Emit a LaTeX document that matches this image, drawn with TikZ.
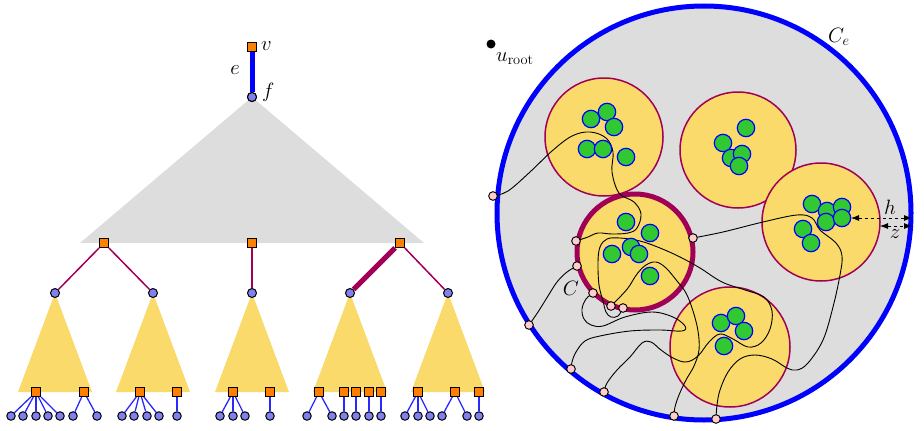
\documentclass[tikz,border=0pt]{standalone}
\usetikzlibrary{arrows.meta}
\definecolor{grayf}{RGB}{221,221,221}
\definecolor{yel}{RGB}{249,218,106}
\definecolor{maroon}{RGB}{160,0,85}
\definecolor{grn}{RGB}{50,200,50}
\definecolor{org}{RGB}{255,128,0}
\definecolor{lav}{RGB}{128,128,240}
\definecolor{pnk}{RGB}{255,205,205}
\definecolor{lblue}{RGB}{40,40,255}
\begin{document}
\begin{tikzpicture}[x=1pt,y=-1pt,
 sq/.style={draw=black, fill=org, rectangle, minimum size=9pt, inner sep=0pt, line width=1pt},
 nd/.style={draw=black, fill=lav, circle, minimum size=9pt, inner sep=0pt, line width=1pt},
 lf/.style={nd, minimum size=8.5pt},
 pk/.style={draw=black, fill=pnk, circle, minimum size=8.5pt, inner sep=0pt, line width=0.8pt},
 gr/.style={draw=blue, fill=grn, line width=1.2pt},
 clus/.style={draw=maroon, fill=yel, line width=1.5pt},
 lab/.style={font=\huge, inner sep=0pt},
 ledge/.style={draw=lblue, line width=1.3pt},
 medge/.style={draw=maroon, line width=1.5pt},
 crv/.style={draw=black, line width=0.9pt},
 dimarrow/.style={dashed, line width=0.8pt, >={Latex[length=8pt,width=6pt]}, <->},
]
\useasboundingbox (0,0) rectangle (924,431);

% ---------- left tree ----------
\fill[grayf] (252,97) -- (80,243) -- (424,243) -- cycle;
\foreach \ax in {55,153,252,350,448}{
  \fill[yel] (\ax,293) -- (\ax-37,392) -- (\ax+37,392) -- cycle;
}
\node[sq] (v) at (252,47) {};
\node[nd] (f) at (252,97) {};
\draw[blue, line width=5pt] (v) -- (f);
\node[sq] at (v) {};
\node[nd] at (f) {};
\node[lab, anchor=base west] at (261,50) {$v$};
\node[lab, anchor=base] at (235,74) {$e$};
\node[lab, anchor=base west] at (262,97) {$f$};

\node[sq] (n1) at (104,243) {};
\node[sq] (n2) at (252,243) {};
\node[sq] (n3) at (400,243) {};
\node[nd] (m1) at (55,293) {};
\node[nd] (m2) at (153,293) {};
\node[nd] (m3) at (252,293) {};
\node[nd] (m4) at (350,293) {};
\node[nd] (m5) at (448,293) {};
\draw[medge] (n1) -- (m1);
\draw[medge] (n1) -- (m2);
\draw[medge] (n2) -- (m3);
\draw[maroon, line width=5pt] (n3) -- (m4);
\draw[medge] (n3) -- (m5);

\foreach \sx/\leaves [count=\i] in {36/{11,23,36,48,60}, 84/{73,97}, 140/{122,134,147,159}, 177/{177},
   233/{220,233,245}, 270/{270}, 319/{307,332}, 344/{344}, 356/{356}, 369/{369}, 381/{381},
   418/{405,418,430}, 455/{442,467}, 479/{479}}{
  \node[sq] (s\i) at (\sx,392) {};
  \foreach \lx [count=\j] in \leaves {
    \node[lf] (l\i-\j) at (\lx,416) {};
    \draw[ledge] (s\i) -- (l\i-\j);
  }
}

% ---------- right picture ----------
\fill (491,44) circle[radius=4.5];
\node[lab, anchor=base west] at (496,61) {$u_{\mathrm{root}}$};
\draw[blue, line width=5pt, fill=grayf] (704,213) circle[radius=207];
\node[lab, anchor=base west] at (828,42) {$C_e$};

\draw[clus] (604,137) circle[radius=59];
\draw[clus] (738,150) circle[radius=58];
\draw[clus] (821,222) circle[radius=59];
\draw[clus] (730,347) circle[radius=60];
\draw[clus, line width=5pt] (635,252) circle[radius=58];
\node[lab, anchor=base] at (571,295) {$C$};

% pink points
\node[pk] (p1) at (493,196) {};
\node[pk] (p2) at (576,241) {};
\node[pk] (p3) at (577,266) {};
\node[pk] (p4) at (593,293) {};
\node[pk] (p5) at (611,306) {};
\node[pk] (p6) at (623,308) {};
\node[pk] (p7) at (693,238) {};
\node[pk] (p8) at (529,325) {};
\node[pk] (p9) at (571,369) {};
\node[pk] (p10) at (604,392) {};
\node[pk] (p11) at (674,416) {};
\node[pk] (p12) at (716,419) {};

% curves
\draw[crv] plot[smooth, tension=0.6] coordinates {(p1) (508,191) (530,172) (552,151) (572,136) (590,132) (606,138) (613,152) (612,172) (619,193) (634,202) (641,214) (637,228) (628,233) (612,234) (598,233) (588,237) (p2)};
\draw[crv] plot[smooth, tension=0.6] coordinates {(p3) (567,272) (557,282) (548,296) (538,312) (p8)};
\draw[crv] plot[smooth, tension=0.6] coordinates {(p7) (723,232) (763,222) (797,215) (812,218) (820,230) (836,243) (842,256) (840,275) (833,307) (823,340) (808,363) (797,370) (787,368) (772,359) (755,355) (740,359) (728,372) (720,390) (717,405) (p12)};
\draw[crv] plot[smooth, tension=0.6] coordinates {(p5) (618,299) (628,288) (637,274) (646,265) (656,262) (666,268) (677,281) (686,293) (693,311) (698,331) (699,350) (694,366) (686,380) (679,395) (675,407) (p11)};
\draw[crv] plot[smooth, tension=0.6] coordinates {(p10) (607,383) (617,370) (630,357) (642,343) (651,342) (661,350) (673,358) (686,362) (698,356) (709,342) (720,334) (733,339) (748,347) (761,343) (770,329) (772,311) (764,297) (745,290) (722,282) (700,268) (680,257) (660,248) (640,241) (620,238) (607,239) (600,247) (598,262) (599,285) (603,301) (606,312) (611,317) (618,316) (p6)};
\draw[crv] plot[smooth, tension=0.6] coordinates {(p4) (586,299) (582,309) (584,319) (591,325) (603,326) (625,317) (652,312) (673,317) (685,326) (682,331) (660,330) (630,331) (600,336) (585,341) (576,352) (572,362) (p9)};

% green circles
\foreach \gx/\gy in {591/119, 607/112, 614/127, 587/149, 603/149, 626/157,
  746/128, 723/143, 731/158, 742/154, 739/166,
  812/204, 827/211, 842/207, 826/222, 842/218, 803/229, 811/243,
  626/222, 650/233, 612/254, 631/247, 639/254, 650/276,
  721/323, 736/316, 744/331, 724/346}{
  \draw[gr] (\gx,\gy) circle[radius=8.7];
}

% pink points on top
\foreach \p in {p1,p2,p3,p4,p5,p6,p7,p8,p9,p10,p11,p12}{
  \node[pk] at (\p) {};
}

% h and z
\coordinate (h1) at (851,218);
\coordinate (h2) at (912,218);
\coordinate (z1) at (880,226);
\coordinate (z2) at (912,226);
\draw[dimarrow] (h1) -- (h2);
\draw[dimarrow] (z1) -- (z2);
\node[lab, anchor=base] at (890,214) {$h$};
\node[lab, anchor=base] at (895,238) {$z$};
\end{tikzpicture}
\end{document}
